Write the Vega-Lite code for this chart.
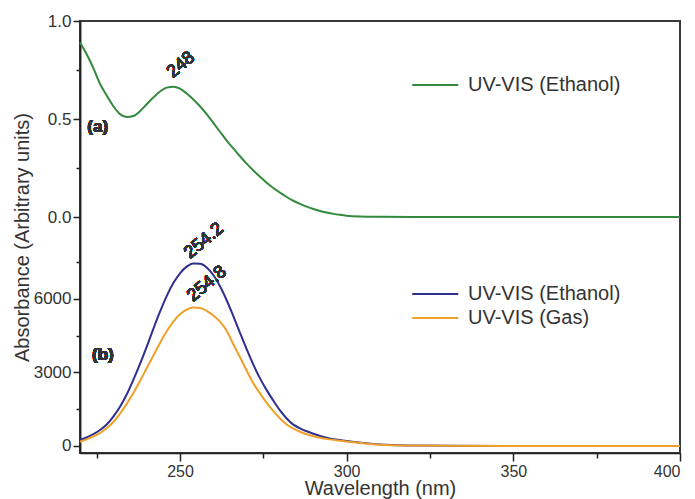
{
  "$schema": "https://vega.github.io/schema/vega-lite/v6.json",
  "width": 600,
  "height": 432,
  "autosize": {"type": "none"},
  "padding": {"left": 80, "top": 21, "right": 15, "bottom": 46},
  "background": "white",
  "config": {
    "font": "Liberation Sans",
    "view": {"stroke": "#3a3a3a", "strokeWidth": 2},
    "axis": {
      "domainColor": "#222",
      "domainWidth": 1.5,
      "tickColor": "#222",
      "tickWidth": 1.5,
      "grid": false,
      "labelFont": "Liberation Sans",
      "labelFontSize": 17,
      "labelColor": "#333",
      "titleFont": "Liberation Sans",
      "titleFontSize": 20,
      "titleFontWeight": "normal",
      "titleColor": "#333"
    },
    "legend": {
      "labelFont": "Liberation Sans",
      "labelFontSize": 20,
      "labelColor": "#333",
      "symbolType": "M-1,0H7",
      "symbolSize": 132.25,
      "symbolStrokeWidth": 2.2,
      "labelOffset": 40,
      "rowPadding": 4,
      "labelLimit": 400
    }
  },
  "datasets": {
    "a": [
      {"wl": 220, "abs": 0.89}, {"wl": 222, "abs": 0.83}, {"wl": 224, "abs": 0.76}, {"wl": 226, "abs": 0.68},
      {"wl": 228, "abs": 0.62}, {"wl": 230, "abs": 0.565}, {"wl": 232, "abs": 0.525}, {"wl": 234, "abs": 0.51},
      {"wl": 236, "abs": 0.515}, {"wl": 238, "abs": 0.54}, {"wl": 240, "abs": 0.575}, {"wl": 242, "abs": 0.61},
      {"wl": 244, "abs": 0.64}, {"wl": 246, "abs": 0.66}, {"wl": 248, "abs": 0.665}, {"wl": 250, "abs": 0.655},
      {"wl": 252, "abs": 0.63}, {"wl": 254, "abs": 0.6}, {"wl": 256, "abs": 0.565}, {"wl": 258, "abs": 0.525},
      {"wl": 260, "abs": 0.48}, {"wl": 262, "abs": 0.435}, {"wl": 264, "abs": 0.39}, {"wl": 266, "abs": 0.35},
      {"wl": 268, "abs": 0.31}, {"wl": 270, "abs": 0.272}, {"wl": 272, "abs": 0.237}, {"wl": 274, "abs": 0.205},
      {"wl": 276, "abs": 0.175}, {"wl": 278, "abs": 0.148}, {"wl": 280, "abs": 0.124}, {"wl": 282, "abs": 0.102},
      {"wl": 284, "abs": 0.083}, {"wl": 286, "abs": 0.067}, {"wl": 288, "abs": 0.053}, {"wl": 290, "abs": 0.041},
      {"wl": 292, "abs": 0.031}, {"wl": 294, "abs": 0.023}, {"wl": 296, "abs": 0.016}, {"wl": 298, "abs": 0.011},
      {"wl": 300, "abs": 0.007}, {"wl": 304, "abs": 0.003}, {"wl": 310, "abs": 0.001}, {"wl": 320, "abs": 0},
      {"wl": 340, "abs": 0}, {"wl": 360, "abs": 0}, {"wl": 380, "abs": 0}, {"wl": 400, "abs": 0}
    ],
    "b": [
      {"wl": 220, "abs": 245, "series": "UV-VIS (Ethanol)"}, {"wl": 222, "abs": 350, "series": "UV-VIS (Ethanol)"},
      {"wl": 224, "abs": 480, "series": "UV-VIS (Ethanol)"}, {"wl": 226, "abs": 650, "series": "UV-VIS (Ethanol)"},
      {"wl": 228, "abs": 880, "series": "UV-VIS (Ethanol)"}, {"wl": 230, "abs": 1200, "series": "UV-VIS (Ethanol)"},
      {"wl": 232, "abs": 1600, "series": "UV-VIS (Ethanol)"}, {"wl": 234, "abs": 2100, "series": "UV-VIS (Ethanol)"},
      {"wl": 236, "abs": 2700, "series": "UV-VIS (Ethanol)"}, {"wl": 238, "abs": 3350, "series": "UV-VIS (Ethanol)"},
      {"wl": 240, "abs": 4050, "series": "UV-VIS (Ethanol)"}, {"wl": 242, "abs": 4780, "series": "UV-VIS (Ethanol)"},
      {"wl": 244, "abs": 5480, "series": "UV-VIS (Ethanol)"}, {"wl": 246, "abs": 6120, "series": "UV-VIS (Ethanol)"},
      {"wl": 248, "abs": 6650, "series": "UV-VIS (Ethanol)"}, {"wl": 250, "abs": 7050, "series": "UV-VIS (Ethanol)"},
      {"wl": 252, "abs": 7320, "series": "UV-VIS (Ethanol)"}, {"wl": 254, "abs": 7450, "series": "UV-VIS (Ethanol)"},
      {"wl": 256, "abs": 7440, "series": "UV-VIS (Ethanol)"}, {"wl": 258, "abs": 7290, "series": "UV-VIS (Ethanol)"},
      {"wl": 260, "abs": 6980, "series": "UV-VIS (Ethanol)"}, {"wl": 262, "abs": 6520, "series": "UV-VIS (Ethanol)"},
      {"wl": 264, "abs": 5950, "series": "UV-VIS (Ethanol)"}, {"wl": 266, "abs": 5300, "series": "UV-VIS (Ethanol)"},
      {"wl": 268, "abs": 4620, "series": "UV-VIS (Ethanol)"}, {"wl": 270, "abs": 3950, "series": "UV-VIS (Ethanol)"},
      {"wl": 272, "abs": 3320, "series": "UV-VIS (Ethanol)"}, {"wl": 274, "abs": 2760, "series": "UV-VIS (Ethanol)"},
      {"wl": 276, "abs": 2280, "series": "UV-VIS (Ethanol)"}, {"wl": 278, "abs": 1850, "series": "UV-VIS (Ethanol)"},
      {"wl": 280, "abs": 1450, "series": "UV-VIS (Ethanol)"}, {"wl": 282, "abs": 1120, "series": "UV-VIS (Ethanol)"},
      {"wl": 284, "abs": 870, "series": "UV-VIS (Ethanol)"}, {"wl": 286, "abs": 720, "series": "UV-VIS (Ethanol)"},
      {"wl": 288, "abs": 600, "series": "UV-VIS (Ethanol)"}, {"wl": 290, "abs": 500, "series": "UV-VIS (Ethanol)"},
      {"wl": 292, "abs": 410, "series": "UV-VIS (Ethanol)"}, {"wl": 294, "abs": 340, "series": "UV-VIS (Ethanol)"},
      {"wl": 296, "abs": 280, "series": "UV-VIS (Ethanol)"}, {"wl": 298, "abs": 240, "series": "UV-VIS (Ethanol)"},
      {"wl": 300, "abs": 200, "series": "UV-VIS (Ethanol)"}, {"wl": 305, "abs": 120, "series": "UV-VIS (Ethanol)"},
      {"wl": 310, "abs": 60, "series": "UV-VIS (Ethanol)"}, {"wl": 320, "abs": 20, "series": "UV-VIS (Ethanol)"},
      {"wl": 330, "abs": 5, "series": "UV-VIS (Ethanol)"}, {"wl": 350, "abs": 0, "series": "UV-VIS (Ethanol)"},
      {"wl": 400, "abs": 0, "series": "UV-VIS (Ethanol)"},
      {"wl": 220, "abs": 175, "series": "UV-VIS (Gas)"}, {"wl": 222, "abs": 270, "series": "UV-VIS (Gas)"},
      {"wl": 224, "abs": 390, "series": "UV-VIS (Gas)"}, {"wl": 226, "abs": 530, "series": "UV-VIS (Gas)"},
      {"wl": 228, "abs": 720, "series": "UV-VIS (Gas)"}, {"wl": 230, "abs": 980, "series": "UV-VIS (Gas)"},
      {"wl": 232, "abs": 1320, "series": "UV-VIS (Gas)"}, {"wl": 234, "abs": 1720, "series": "UV-VIS (Gas)"},
      {"wl": 236, "abs": 2160, "series": "UV-VIS (Gas)"}, {"wl": 238, "abs": 2650, "series": "UV-VIS (Gas)"},
      {"wl": 240, "abs": 3170, "series": "UV-VIS (Gas)"}, {"wl": 242, "abs": 3690, "series": "UV-VIS (Gas)"},
      {"wl": 244, "abs": 4200, "series": "UV-VIS (Gas)"}, {"wl": 246, "abs": 4680, "series": "UV-VIS (Gas)"},
      {"wl": 248, "abs": 5080, "series": "UV-VIS (Gas)"}, {"wl": 250, "abs": 5380, "series": "UV-VIS (Gas)"},
      {"wl": 252, "abs": 5570, "series": "UV-VIS (Gas)"}, {"wl": 254, "abs": 5650, "series": "UV-VIS (Gas)"},
      {"wl": 256, "abs": 5630, "series": "UV-VIS (Gas)"}, {"wl": 258, "abs": 5520, "series": "UV-VIS (Gas)"},
      {"wl": 260, "abs": 5330, "series": "UV-VIS (Gas)"}, {"wl": 262, "abs": 5080, "series": "UV-VIS (Gas)"},
      {"wl": 264, "abs": 4700, "series": "UV-VIS (Gas)"}, {"wl": 266, "abs": 4150, "series": "UV-VIS (Gas)"},
      {"wl": 268, "abs": 3620, "series": "UV-VIS (Gas)"}, {"wl": 270, "abs": 3080, "series": "UV-VIS (Gas)"},
      {"wl": 272, "abs": 2560, "series": "UV-VIS (Gas)"}, {"wl": 274, "abs": 2150, "series": "UV-VIS (Gas)"},
      {"wl": 276, "abs": 1760, "series": "UV-VIS (Gas)"}, {"wl": 278, "abs": 1420, "series": "UV-VIS (Gas)"},
      {"wl": 280, "abs": 1120, "series": "UV-VIS (Gas)"}, {"wl": 282, "abs": 880, "series": "UV-VIS (Gas)"},
      {"wl": 284, "abs": 710, "series": "UV-VIS (Gas)"}, {"wl": 286, "abs": 580, "series": "UV-VIS (Gas)"},
      {"wl": 288, "abs": 480, "series": "UV-VIS (Gas)"}, {"wl": 290, "abs": 400, "series": "UV-VIS (Gas)"},
      {"wl": 292, "abs": 340, "series": "UV-VIS (Gas)"}, {"wl": 294, "abs": 290, "series": "UV-VIS (Gas)"},
      {"wl": 296, "abs": 250, "series": "UV-VIS (Gas)"}, {"wl": 298, "abs": 215, "series": "UV-VIS (Gas)"},
      {"wl": 300, "abs": 180, "series": "UV-VIS (Gas)"}, {"wl": 305, "abs": 110, "series": "UV-VIS (Gas)"},
      {"wl": 310, "abs": 55, "series": "UV-VIS (Gas)"}, {"wl": 320, "abs": 18, "series": "UV-VIS (Gas)"},
      {"wl": 330, "abs": 5, "series": "UV-VIS (Gas)"}, {"wl": 350, "abs": 0, "series": "UV-VIS (Gas)"},
      {"wl": 400, "abs": 0, "series": "UV-VIS (Gas)"}
    ]
  },
  "layer": [
    {
      "data": {"name": "a"},
      "encoding": {
        "x": {
          "field": "wl",
          "type": "quantitative",
          "scale": {"domain": [220, 400], "nice": false, "zero": false},
          "axis": {
            "title": "Wavelength (nm)",
            "orient": "bottom",
            "values": [250, 300, 350, 400],
            "tickSize": 8,
            "labelPadding": 2,
            "labelFontSize": 16,
            "titleY": 41,
            "titleBaseline": "alphabetic"
          }
        },
        "y": {
          "field": "abs",
          "type": "quantitative",
          "scale": {"domain": [-1.204, 1.0], "nice": false, "zero": false},
          "axis": {
            "title": null,
            "values": [0, 0.5, 1.0],
            "format": ".1f",
            "tickSize": 7,
            "labelPadding": 2,
            "orient": "left"
          }
        }
      },
      "layer": [
        {
          "mark": {"type": "line", "strokeWidth": 2, "interpolate": "monotone"},
          "encoding": {
            "color": {
              "datum": "UV-VIS (Ethanol)",
              "scale": {"range": ["#338a3c"]},
              "legend": {"orient": "none", "legendX": 328, "legendY": 54, "title": null}
            }
          }
        },
        {
          "mark": {"type": "text", "text": "248", "angle": 320, "fontSize": 18, "color": "#333"},
          "encoding": {"x": {"datum": 250.3}, "y": {"datum": 0.776}}
        },
        {
          "mark": {"type": "text", "text": "(a)", "align": "left", "fontSize": 17, "fontWeight": "bold", "color": "#333"},
          "encoding": {"x": {"datum": 222.2}, "y": {"datum": 0.46}}
        }
      ]
    },
    {
      "data": {"name": "b"},
      "encoding": {
        "x": {
          "field": "wl",
          "type": "quantitative",
          "scale": {"domain": [220, 400], "nice": false, "zero": false},
          "axis": null
        },
        "y": {
          "field": "abs",
          "type": "quantitative",
          "scale": {"domain": [-286, 17347], "nice": false, "zero": false},
          "axis": {
            "title": "Absorbance (Arbitrary units)",
            "values": [0, 3000, 6000],
            "format": "d",
            "tickSize": 7,
            "labelPadding": 2,
            "orient": "left",
            "titleX": -52,
            "titleBaseline": "alphabetic"
          }
        }
      },
      "layer": [
        {
          "mark": {"type": "line", "strokeWidth": 2, "interpolate": "monotone"},
          "encoding": {
            "color": {
              "field": "series",
              "type": "nominal",
              "scale": {"domain": ["UV-VIS (Ethanol)", "UV-VIS (Gas)"], "range": ["#2f2f8f", "#f0a028"]},
              "legend": {"orient": "none", "legendX": 328, "legendY": 263, "title": null}
            }
          }
        },
        {
          "mark": {"type": "text", "text": "254.2", "angle": 320, "fontSize": 18, "color": "#333"},
          "encoding": {"x": {"datum": 257.2}, "y": {"datum": 8367}}
        },
        {
          "mark": {"type": "text", "text": "254.8", "angle": 320, "fontSize": 18, "color": "#333"},
          "encoding": {"x": {"datum": 258.1}, "y": {"datum": 6612}}
        },
        {
          "mark": {"type": "text", "text": "(b)", "align": "left", "fontSize": 17, "fontWeight": "bold", "color": "#333"},
          "encoding": {"x": {"datum": 223.6}, "y": {"datum": 3714}}
        }
      ]
    },
    {
      "data": {"name": "a"},
      "mark": {"type": "point", "opacity": 0},
      "encoding": {
        "x": {
          "field": "wl",
          "type": "quantitative",
          "scale": {"domain": [220, 400], "nice": false, "zero": false},
          "axis": {"title": null, "orient": "bottom", "values": [225, 275, 325, 375], "labels": false, "domain": false, "tickSize": 5}
        },
        "y": {
          "field": "abs",
          "type": "quantitative",
          "scale": {"domain": [-1.204, 1.0], "nice": false, "zero": false},
          "axis": {"title": null, "orient": "left", "values": [0.25, 0.75], "labels": false, "domain": false, "tickSize": 4}
        }
      }
    },
    {
      "data": {"name": "b"},
      "mark": {"type": "point", "opacity": 0},
      "encoding": {
        "x": {
          "field": "wl",
          "type": "quantitative",
          "scale": {"domain": [220, 400], "nice": false, "zero": false},
          "axis": null
        },
        "y": {
          "field": "abs",
          "type": "quantitative",
          "scale": {"domain": [-286, 17347], "nice": false, "zero": false},
          "axis": {"title": null, "orient": "left", "values": [1500, 4500, 7500], "labels": false, "domain": false, "tickSize": 4}
        }
      }
    }
  ],
  "resolve": {"scale": {"x": "independent", "y": "independent", "color": "independent"}}
}
